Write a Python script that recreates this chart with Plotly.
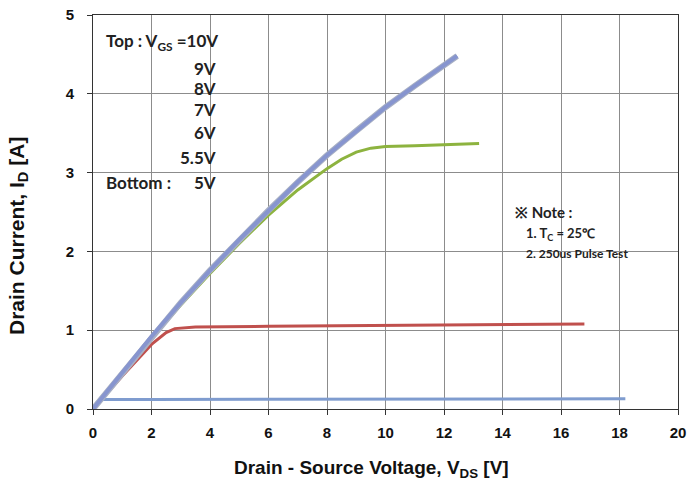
import plotly.graph_objects as go

# Data
vds_top = [0, 1, 2, 3, 4, 5, 6, 7, 8, 9, 10, 11, 12, 12.45]
id_top = [0, 0.46, 0.92, 1.35, 1.76, 2.15, 2.52, 2.88, 3.22, 3.53, 3.83, 4.1, 4.37, 4.48]

vds_6v = [0, 1, 2, 3, 4, 5, 6, 7, 8, 8.5, 9, 9.5, 10, 11, 12, 13.2]
id_6v = [0, 0.45, 0.9, 1.32, 1.72, 2.1, 2.46, 2.78, 3.05, 3.17, 3.26, 3.31, 3.33, 3.34, 3.35, 3.37]

vds_55v = [0, 1, 2, 2.5, 2.8, 3.5, 6, 10, 14, 16.8]
id_55v = [0, 0.42, 0.82, 0.97, 1.02, 1.04, 1.05, 1.06, 1.07, 1.08]

vds_5v = [0, 0.3, 2, 10, 18.2]
id_5v = [0.02, 0.12, 0.12, 0.125, 0.13]

x_ticks = list(range(0, 21, 2))
y_ticks = list(range(0, 6))

fig = go.Figure()
fig.add_trace(go.Scatter(x=vds_5v, y=id_5v, mode="lines",
                         line=dict(color="#7f9ccf", width=3), name="5V"))
fig.add_trace(go.Scatter(x=vds_55v, y=id_55v, mode="lines",
                         line=dict(color="#c0504d", width=3), name="5.5V"))
fig.add_trace(go.Scatter(x=vds_6v, y=id_6v, mode="lines",
                         line=dict(color="#8db33f", width=3), name="6V"))
fig.add_trace(go.Scatter(x=vds_top, y=id_top, mode="lines",
                         line=dict(color="#a8b0c4", width=6), name="7V"))
fig.add_trace(go.Scatter(x=vds_top, y=id_top, mode="lines",
                         line=dict(color="#8795cf", width=4), name="10V"))

tfont = dict(family="Lato", size=17, color="#222222")
ann = []
def px2x(px):
    return (px - 93) / 29.25
def py2y(py):
    return (409 - py) / 78.8

ann.append(dict(x=px2x(104), y=py2y(42), text="<b>Top : V<sub>GS</sub> =10V</b>", xanchor="left"))
for lab, py in [("9V", 68), ("8V", 88), ("7V", 109), ("6V", 132), ("5.5V", 157), ("5V", 182)]:
    ann.append(dict(x=px2x(218), y=py2y(py), text=f"<b>{lab}</b>", xanchor="right"))
ann.append(dict(x=px2x(104), y=py2y(182), text="<b>Bottom :</b>", xanchor="left"))
ann.append(dict(x=px2x(513), y=py2y(212), text="<b>※ Note :</b>", xanchor="left",
                font=dict(family="Lato", size=15, color="#222222")))
ann.append(dict(x=px2x(524), y=py2y(234), text="<b>1. T<sub>C</sub> = 25℃</b>", xanchor="left",
                font=dict(family="Lato", size=13, color="#222222")))
ann.append(dict(x=px2x(524), y=py2y(253), text="<b>2. 250us Pulse Test</b>", xanchor="left",
                font=dict(family="Lato", size=12, color="#222222")))
for a in ann:
    a.setdefault("font", tfont)
    a.update(xref="x", yref="y", showarrow=False, yanchor="middle")

# axis titles placed as paper annotations (paper = plot area)
ann.append(dict(x=(371 - 93) / 585, y=(409 - 469) / 394, xref="paper", yref="paper", showarrow=False,
                xanchor="center", yanchor="middle",
                text="<b>Drain - Source Voltage, V<sub>DS</sub> [V]</b>",
                font=dict(family="Liberation Sans", size=19, color="#111111")))
ann.append(dict(x=(18 - 93) / 585, y=(409 - 236) / 394, xref="paper", yref="paper", showarrow=False,
                xanchor="center", yanchor="middle", textangle=-90,
                text="<b>Drain Current, I<sub>D</sub> [A]</b>",
                font=dict(family="Liberation Sans", size=21, color="#111111")))

axfont = dict(family="Liberation Sans", size=15, color="#111111")
fig.update_layout(
    width=688, height=481,
    margin=dict(l=93, r=10, t=15, b=72),
    paper_bgcolor="white", plot_bgcolor="white",
    showlegend=False,
    annotations=ann,
    xaxis=dict(range=[0, 20], tickvals=x_ticks, ticktext=[f"<b>{v}</b>" for v in x_ticks],
               showgrid=True, gridcolor="#8c8c8c", gridwidth=1, automargin=False,
               showline=True, linecolor="#333333", mirror=True, linewidth=1,
               ticks="outside", ticklen=5, tickcolor="#333333", ticklabelstandoff=5,
               zeroline=False, tickfont=axfont, layer="below traces"),
    yaxis=dict(range=[0, 5], tickvals=y_ticks, ticktext=[f"<b>{v}</b>" for v in y_ticks],
               showgrid=True, gridcolor="#8c8c8c", gridwidth=1, automargin=False,
               showline=True, linecolor="#333333", mirror=True, linewidth=1,
               ticks="outside", ticklen=5, tickcolor="#333333", ticklabelstandoff=10,
               zeroline=False, tickfont=axfont, layer="below traces"),
)

fig.write_html("out.html", config={"displayModeBar": False},
               post_script="document.body.style.margin='0';")
